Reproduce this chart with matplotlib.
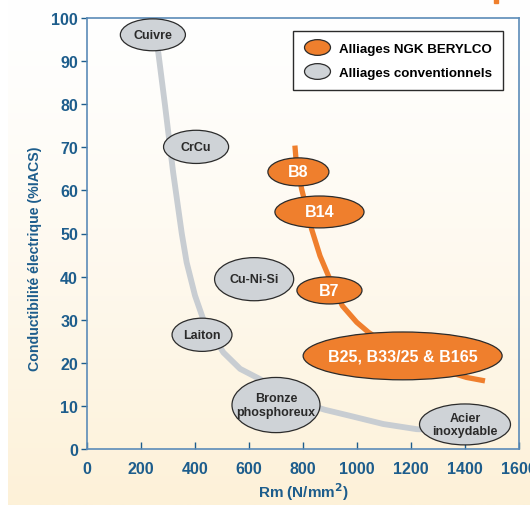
import numpy as np
import matplotlib
matplotlib.use("Agg")
import matplotlib.pyplot as plt
from matplotlib.patches import Ellipse, Rectangle
from matplotlib.lines import Line2D
from matplotlib.path import Path

plt.rcParams['font.family'] = ['Liberation Sans', 'DejaVu Sans']
plt.rcParams['font.weight'] = 'bold'

# courbe alliages conventionnels (Rm, %IACS)
conv_rm = [252, 264, 289, 319, 351, 369, 400, 430, 470, 505, 567, 641, 760, 881, 974, 1097, 1221, 1350]
conv_iacs = [96, 92, 79.7, 64.2, 50, 43.3, 35.6, 30.2, 26, 22.4, 18.6, 16.2, 11.5, 9.1, 7.7, 5.8, 4.6, 4.3]

# courbe NGK BERYLCO
ngk_rm = [770, 774, 795, 832, 863, 894, 946, 999, 1042, 1200, 1406, 1474]
ngk_iacs = [70.4, 67.3, 60.3, 51.0, 44.8, 40.2, 33.2, 29.4, 27.1, 20.5, 16.6, 15.8]

# ellipses: label, centre x, centre y, largeur, hauteur
conv_labels = ["Cuivre", "CrCu", "Cu-Ni-Si", "Laiton", "Bronze\nphosphoreux", "Acier\ninoxydable"]
conv_x = [244, 404, 619, 426, 700, 1400]
conv_y = [96.1, 70.1, 39.4, 26.5, 10.2, 5.7]
conv_w = [241, 241, 293, 222, 326, 337]
conv_h = [7.4, 7.7, 10.0, 7.7, 12.8, 9.5]

ngk_labels = ["B8", "B14", "B7", "B25, B33/25 & B165"]
ngk_x = [783, 861, 898, 1169]
ngk_y = [64.3, 55.0, 36.8, 21.6]
ngk_w = [226, 330, 241, 737]
ngk_h = [6.5, 7.4, 6.3, 11.1]

xticks = list(range(0, 1601, 200))
yticks = list(range(0, 101, 10))

orange = '#ef7f2d'
grey_fill = '#cfd3d7'
grey_line = '#c8cdd2'
blue = '#1d5d8c'
edge = '#2b2b2b'

fig = plt.figure(figsize=(5.30, 5.06), dpi=100)
fig.patch.set_facecolor('white')

# fond degrade
bg = fig.add_axes([8 / 530, 0, 1 - 8 / 530, 1], zorder=-10)
grad = np.linspace(0, 1, 256).reshape(-1, 1)
top = np.array([1.0, 1.0, 1.0])
bot = np.array([253, 241, 216]) / 255
img = top + (bot - top) * grad[..., None] ** 1.3
bg.imshow(img, aspect='auto', extent=[0, 1, 0, 1], origin='upper')
bg.axis('off')
fig.patches.append(Rectangle((494 / 530, 1 - 4 / 506), 4 / 530, 4 / 506,
                             transform=fig.transFigure, color=orange, zorder=5))

ax = fig.add_axes([87 / 530, 56 / 506, 432 / 530, 431 / 506])
ax.set_facecolor('none')
ax.set_xlim(0, 1600)
ax.set_ylim(0, 100)

ax.plot(conv_rm, conv_iacs, color=grey_line, lw=4.2, solid_capstyle='butt',
        solid_joinstyle='round', zorder=2)
ax.plot(ngk_rm, ngk_iacs, color=orange, lw=3.8, solid_capstyle='butt',
        solid_joinstyle='round', zorder=4)

for lab, x, y, w, h in zip(conv_labels, conv_x, conv_y, conv_w, conv_h):
    ax.add_patch(Ellipse((x, y), w, h, facecolor=grey_fill, edgecolor=edge, lw=0.9, zorder=3))
    ax.text(x, y, lab, ha='center', va='center', fontsize=9, color='#2a2a2a',
            fontweight='bold', linespacing=1.15, zorder=3.5)

for lab, x, y, w, h in zip(ngk_labels, ngk_x, ngk_y, ngk_w, ngk_h):
    ax.add_patch(Ellipse((x, y), w, h, facecolor=orange, edgecolor=edge, lw=0.9, zorder=5))
    ax.text(x, y, lab, ha='center', va='center', fontsize=11.5, color='white',
            fontweight='bold', zorder=6)

for s in ax.spines.values():
    s.set_color('#5b8bb8')
    s.set_linewidth(1.2)

ax.set_xticks(xticks)
ax.set_yticks(yticks)
ax.tick_params(axis='x', direction='in', length=5, width=1, color=blue, pad=9,
               labelsize=11.5, labelcolor=blue)
ax.tick_params(axis='y', direction='out', length=4.5, width=1, color=blue, pad=2,
               labelsize=11.5, labelcolor=blue)
for t in ax.get_xticklabels() + ax.get_yticklabels():
    t.set_fontweight('bold')

ax.set_xlabel('Rm (N/mm$^\\mathbf{2}$)', fontsize=11, color=blue, fontweight='bold', labelpad=3)
ax.set_ylabel('Conductibilité électrique (%IACS)', fontsize=10.2, color=blue,
              fontweight='bold')
ax.yaxis.set_label_coords(-0.104, 0.443)

ell = Path.unit_circle()
ell = Path(ell.vertices * np.array([1.65, 1.0]), ell.codes)
handles = [
    Line2D([], [], ls='none', marker=ell, markersize=18.7, markerfacecolor=orange,
           markeredgecolor=edge, markeredgewidth=0.9),
    Line2D([], [], ls='none', marker=ell, markersize=18.7, markerfacecolor=grey_fill,
           markeredgecolor=edge, markeredgewidth=0.9),
]
leg = ax.legend(handles, ['Alliages NGK BERYLCO', 'Alliages conventionnels'],
                loc='upper right', bbox_to_anchor=(0.963, 0.970), borderaxespad=0,
                fancybox=False, framealpha=1, edgecolor=edge,
                prop={'weight': 'bold', 'size': 9.6},
                handletextpad=0.6, labelspacing=0.9, borderpad=0.85, handlelength=2.0)
leg.get_frame().set_linewidth(1.0)
leg.set_zorder(10)

fig.savefig('out.png', dpi=100)
